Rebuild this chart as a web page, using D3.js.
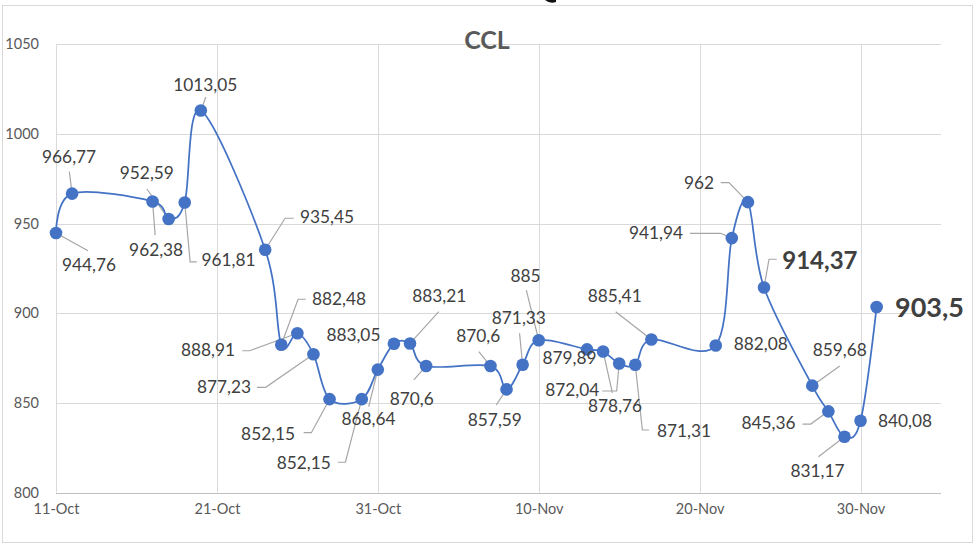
<!DOCTYPE html>
<html>
<head>
<meta charset="utf-8">
<script src="https://cdn.jsdelivr.net/npm/d3@7"></script>
<style>
  html, body { margin: 0; padding: 0; background: #fff; }
  svg { display: block; font-family: Lato, "Open Sans", sans-serif; }
</style>
</head>
<body>
<svg id="chart" width="980" height="547"></svg>
<script>
// ---- data ----
const chartTitle = "CCL";
const dates = [
  "2023-10-11","2023-10-12","2023-10-17","2023-10-18","2023-10-19","2023-10-20",
  "2023-10-24","2023-10-25","2023-10-26","2023-10-27","2023-10-28","2023-10-30",
  "2023-10-31","2023-11-01","2023-11-02","2023-11-03","2023-11-07","2023-11-08",
  "2023-11-09","2023-11-10","2023-11-13","2023-11-14","2023-11-15","2023-11-16",
  "2023-11-17","2023-11-21","2023-11-22","2023-11-23","2023-11-24","2023-11-27",
  "2023-11-28","2023-11-29","2023-11-30","2023-12-01"
];
const values = [
  944.76, 966.77, 962.38, 952.59, 961.81, 1013.05,
  935.45, 882.48, 888.91, 877.23, 852.15, 852.15,
  868.64, 883.05, 883.21, 870.6, 870.6, 857.59,
  871.33, 885, 879.89, 878.76, 872.04, 871.31,
  885.41, 882.08, 941.94, 962, 914.37, 859.68,
  845.36, 831.17, 840.08, 903.5
];
const xTickDates = ["2023-10-11","2023-10-21","2023-10-31","2023-11-10","2023-11-20","2023-11-30"];
const xTickLabels = ["11-Oct","21-Oct","31-Oct","10-Nov","20-Nov","30-Nov"];
const yTicks = [800, 850, 900, 950, 1000, 1050];
const xDomain = ["2023-10-11", "2023-12-05"];
const yDomain = [800, 1050];

// ---- label layout (pixel offsets from each point; leader polyline ends at the point) ----
const labelLayout = [
  {dx: 33, dy: 38, leader: [[32, 17.6]]},
  {dx: -3, dy: -30.6, leader: [[-2.8, -21.9]]},
  {dx: 3.6, dy: 54.7, leader: [[2.6, 33.7]]},
  {dx: -21.8, dy: -40, leader: [[-21.8, -30]]},
  {dx: 43.7, dy: 63.2, leader: [[12.1, 59.4], [5.4, 59.4]]},
  {dx: 4.4, dy: -19.1, leader: [[5.1, -13.6]]},
  {dx: 61.9, dy: -26.8, leader: [[28.5, -31.5], [19.9, -31.5]]},
  {dx: 57.8, dy: -39.3, leader: [[24.4, -45.5], [16.8, -45.5]]},
  {dx: -89.3, dy: 22.8, leader: [[-55, 17.5], [-47.7, 17.5]]},
  {dx: -89.4, dy: 38.8, leader: [[-56.4, 33.1], [-47.8, 33.1]]},
  {dx: -61.4, dy: 41.3, leader: [[-25.9, 33.5], [-18.2, 33.5]]},
  {dx: -58, dy: 69.8, leader: [[-24, 63.1], [-16.3, 63.1]]},
  {dx: -9.4, dy: 55.9, leader: [[-9.1, 37.1]]},
  {dx: -40.5, dy: -3.2, leader: []},
  {dx: 29.2, dy: -41.5, leader: [[28.8, -31.8]]},
  {dx: -14.4, dy: 39.4, leader: [[-12.3, 13.9]]},
  {dx: -12.2, dy: -24.1, leader: [[-11.6, -14.4]]},
  {dx: -11.7, dy: 36.1, leader: [[-10.3, 15.6]]},
  {dx: -3.8, dy: -40.8, leader: [[-3.1, -31.5]]},
  {dx: -13.1, dy: -58.2, leader: [[-12.4, -50.2]]},
  {dx: -17.5, dy: 14.6, leader: []},
  {dx: 12, dy: 61, leader: [[9.3, 41.5]]},
  {dx: -47, dy: 32.5, leader: [[-17, 27.5], [-2.5, 27.5]]},
  {dx: 48.7, dy: 72.2, leader: [[13.7, 65.2], [7.1, 65.2]]},
  {dx: -36.7, dy: -37.4, leader: [[-35.7, -27.7]]},
  {dx: 45, dy: 5, leader: []},
  {dx: -75.8, dy: 0.9, leader: [[-41.8, -4.8], [-11.1, -4.8]]},
  {dx: -48.9, dy: -12.7, leader: [[-27.2, -19.5], [-18.9, -19.5]]},
  {dx: 55.9, dy: -18.1, leader: [[12.7, -28.3], [5, -28.3]]},
  {dx: 27.5, dy: -29.7, leader: [[27.5, -19.7]]},
  {dx: -59.9, dy: 17.7, leader: [[-25.9, 12.7], [-17.6, 12.7]]},
  {dx: -27, dy: 40.2, leader: [[-26, 19.9]]},
  {dx: 44.5, dy: 5.7, leader: []},
  {dx: 52.9, dy: 10.4, leader: []}
];
const emphasizedIndex = {28: 24, 33: 27}; // index -> bold font size

// ---- drawing ----
const parse = d3.timeParse("%Y-%m-%d");
const svg = d3.select("#chart");
const margin = {left: 56, right: 39, top: 44.3, bottom: 54.3};
const W = 980, H = 547;

const x = d3.scaleTime()
  .domain(xDomain.map(parse))
  .range([margin.left, W - margin.right]);
const y = d3.scaleLinear()
  .domain(yDomain)
  .range([H - margin.bottom, margin.top]);

// outer frame
svg.append("rect")
  .attr("x", 2.5).attr("y", 5.5).attr("width", 970).attr("height", 537)
  .attr("fill", "#fff").attr("stroke", "#d9d9d9").attr("stroke-width", 1);

// small dark fragment at top edge
svg.append("path")
  .attr("d", "M545,0 Q550,4 556,2 L556,0 Z")
  .attr("fill", "#111");

// gridlines
const grid = svg.append("g");
grid.selectAll("line.h").data(yTicks).join("line")
  .attr("x1", x.range()[0]).attr("x2", x.range()[1])
  .attr("y1", d => Math.round(y(d)) + 0.5).attr("y2", d => Math.round(y(d)) + 0.5)
  .attr("stroke", d => d === yDomain[0] ? "#bfbfbf" : "#d9d9d9").attr("stroke-width", 1);
grid.selectAll("line.v").data(xTickDates).join("line")
  .attr("x1", d => Math.round(x(parse(d))) + 0.5).attr("x2", d => Math.round(x(parse(d))) + 0.5)
  .attr("y1", y.range()[1]).attr("y2", y.range()[0])
  .attr("stroke", "#d9d9d9").attr("stroke-width", 1);

// y axis labels
const yAxis = d3.axisLeft(y).tickValues(yTicks).tickSize(0).tickPadding(17).tickFormat(d3.format("d"));
const yg = svg.append("g").attr("transform", `translate(${margin.left},0)`).call(yAxis);
yg.select(".domain").remove();
yg.selectAll("text").attr("fill", "#595959").style("font-size", "14.5px").style("font-family", "Lato, sans-serif");

// x axis labels
const xAxis = d3.axisBottom(x).tickValues(xTickDates.map(parse)).tickSize(0).tickPadding(11)
  .tickFormat((d, i) => xTickLabels[i]);
const xg = svg.append("g").attr("transform", `translate(0,${y.range()[0]})`).call(xAxis);
xg.select(".domain").remove();
xg.selectAll("text").attr("fill", "#595959").style("font-size", "14.5px").style("font-family", "Lato, sans-serif");

// title
svg.append("text")
  .attr("x", 487).attr("y", 49)
  .attr("text-anchor", "middle")
  .attr("fill", "#595959")
  .style("font-size", "25px").style("font-weight", "bold")
  .text(chartTitle);

const pts = dates.map((d, i) => ({x: x(parse(d)), y: y(values[i]), v: values[i], i}));

// leader lines
svg.append("g").selectAll("polyline").data(pts).join("polyline")
  .attr("points", p => labelLayout[p.i].leader.length
      ? labelLayout[p.i].leader.map(q => [p.x + q[0], p.y + q[1]].join(",")).concat([[p.x, p.y].join(",")]).join(" ")
      : "")
  .attr("fill", "none").attr("stroke", "#a6a6a6").attr("stroke-width", 1.2);

// smoothed line
const line = d3.line().x(p => p.x).y(p => p.y).curve(d3.curveCardinal.tension(0));
svg.append("path").datum(pts)
  .attr("d", line)
  .attr("fill", "none").attr("stroke", "#4472C4").attr("stroke-width", 1.75);

// markers
svg.append("g").selectAll("circle").data(pts).join("circle")
  .attr("cx", p => p.x).attr("cy", p => p.y).attr("r", 6.3)
  .attr("fill", "#4472C4");

// data labels
const fmt = v => String(v).replace(".", ",");
svg.append("g").selectAll("text").data(pts).join("text")
  .attr("x", p => p.x + labelLayout[p.i].dx)
  .attr("y", p => p.y + labelLayout[p.i].dy)
  .attr("text-anchor", "middle")
  .attr("fill", "#404040")
  .style("font-size", p => (emphasizedIndex[p.i] || 17.3) + "px")
  .style("font-weight", p => emphasizedIndex[p.i] ? "bold" : "normal")
  .text(p => fmt(p.v));
</script>
</body>
</html>
